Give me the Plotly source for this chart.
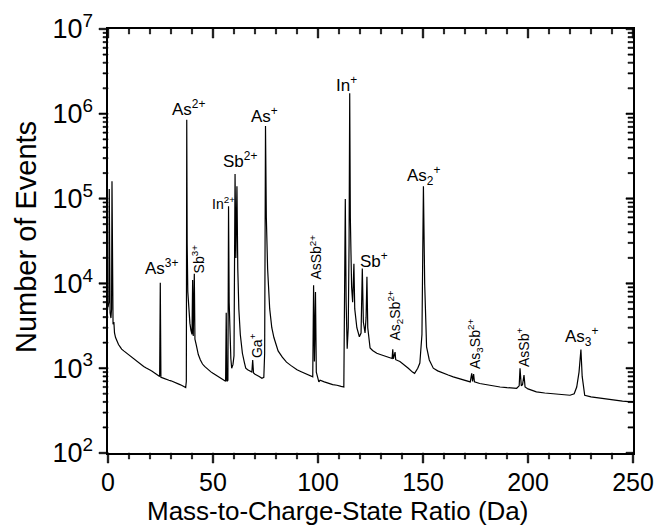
import plotly.graph_objects as go

# ---- spectrum ----
mass_da = [0.0, 0.4, 0.6, 0.8, 1.0, 1.4, 1.7, 1.9, 2.1, 2.4, 2.8, 3.1, 3.6, 4.2, 5.0, 5.7, 6.5, 7.5, 8.9,
           10, 11, 12, 13, 14, 15, 16, 17, 18, 19, 20, 21, 22, 23, 24, 24.6, 24.9, 25.2, 26, 27, 28, 29, 30,
           31, 32, 33, 34, 35, 36, 37.0, 37.3, 37.5, 37.7, 38.0, 38.5, 39.0, 39.5, 40.0, 40.3, 40.6, 41.1,
           41.4, 42.0, 43.0, 44.0, 45, 46, 47, 48, 49, 50, 51, 52, 53, 54, 55, 56.0, 56.3, 56.6, 57.1, 57.4,
           57.7, 58.1, 58.5, 58.9, 59.5, 60.0, 60.5, 60.9, 61.4, 61.8, 62.3, 63.0, 64.0, 65.0, 65.6, 66.5,
           67.5, 68.5, 68.9, 69.3, 70, 71, 72, 73.3, 74.2, 74.6, 75.0, 75.4, 76.0, 77.0, 78.0, 79.0, 80.0,
           81.0, 83, 85, 87, 90, 92, 95, 97.5, 97.9, 98.3, 98.8, 99.2, 100.4, 101, 103, 105, 107, 109, 110,
           111, 112.3, 112.6, 113.0, 113.4, 113.9, 114.4, 114.8, 115.1, 115.4, 116.0, 116.5, 117.1, 117.5,
           118.5, 119.7, 120.5, 121.1, 121.6, 122.4, 122.9, 123.3, 123.7, 124.8, 126, 128, 130, 132.7, 134,
           135.3, 135.6, 135.9, 136.7, 137.0, 139, 141, 143, 145, 146, 147.5, 148.5, 149.5, 150.2, 150.8,
           151.7, 153, 154.9, 157, 160, 162, 164.4, 167, 170, 172.5, 173.2, 173.6, 174.1, 174.5, 177, 180,
           183, 186.7, 190, 194.6, 195.8, 196.2, 196.8, 197.4, 198.1, 198.6, 200, 204, 208, 212, 216, 220,
           222, 223.2, 224.3, 225.2, 225.8, 226.5, 227, 230, 236, 240, 245, 249.4, 250]
counts = [5200, 6000, 130000, 9000, 4500, 3900, 5000, 160000, 8000, 3300, 3500, 2600, 2300, 2100, 1900, 1800,
          1680, 1600, 1500,
          1430, 1350, 1290, 1240, 1180, 1150, 1090, 1050, 1010, 970, 950, 920, 880, 850, 820, 800, 10200, 780,
          770, 750, 735, 720, 710,
          690, 675, 660, 645, 630, 610, 590, 700, 850000, 30000, 8000, 4500, 3400, 2800, 2500, 11000, 2400,
          13000,
          2200, 1900, 1450, 1250, 1120, 1050, 990, 950, 905, 870, 840, 805, 780, 750, 730, 700, 4500, 700,
          720, 81000,
          6000, 2500, 1300, 1000, 1100, 1400, 195000, 20000, 140000, 15000, 5000, 2500, 1500, 1150, 1000, 960,
          930, 900, 1250, 880, 850, 830, 800, 760, 780, 1500, 720000, 60000, 15000, 5000, 3000, 2300, 1900,
          1600, 1350, 1180, 1080, 960, 910, 840, 790, 9500, 1200, 7900, 900, 690, 720, 690, 660, 640, 630, 615,
          610, 600, 3000, 99000, 6000, 1700, 3000, 30000, 1750000, 60000, 9100, 6000, 17000, 5000,
          3000, 2350, 2600, 15000, 3500, 2600, 4000, 12000, 3000, 1730, 1620, 1500, 1440, 1370, 1330,
          1300, 1670, 1290, 1550, 1260, 1200, 1100, 1000, 900, 870, 1000, 1150, 2500, 140000, 10000,
          1780, 1250, 1000, 930, 860, 830, 790, 760, 720, 690, 870, 700, 850, 690, 660, 640,
          620, 600, 590, 580, 620, 1000, 620, 640, 830, 600, 570, 525, 510, 500, 490, 480,
          500, 600, 900, 1660, 800, 560, 480, 460, 440, 420, 410, 400, 400]

# ---- axis ticks ----
x_ticks = [0, 50, 100, 150, 200, 250]
x_minor = [v for v in range(10, 250, 10) if v % 50 != 0]
y_ticks = [1e2, 1e3, 1e4, 1e5, 1e6, 1e7]
y_tick_labels = ["10<sup>2</sup>", "10<sup>3</sup>", "10<sup>4</sup>", "10<sup>5</sup>",
                 "10<sup>6</sup>", "10<sup>7</sup>"]
y_minor = [k * 10 ** d for d in range(2, 7) for k in range(2, 10)]

# ---- peak labels: text, mass, log10(count) of centre, rotated?, size ----
label_text = ["As<sup>3+</sup>", "As<sup>2+</sup>", "As<sup>+</sup>", "Sb<sup>2+</sup>", "In<sup>2+</sup>",
              "In<sup>+</sup>", "As<sub>2</sub><sup>+</sup>", "Sb<sup>+</sup>", "As<sub>3</sub><sup>+</sup>",
              "Sb<sup>3+</sup>", "Ga<sup>+</sup>", "AsSb<sup>2+</sup>", "As<sub>2</sub>Sb<sup>2+</sup>",
              "As<sub>3</sub>Sb<sup>2+</sup>", "AsSb<sup>+</sup>"]
label_mass = [25.5, 38.3, 74.5, 62.9, 54.8, 113.6, 150.2, 126.7, 225.5, 43.3, 70.5, 98.6, 136.9, 174.5, 197.4]
label_log = [4.19, 6.07, 5.99, 5.455, 4.954, 6.357, 5.267, 4.276, 3.374, 4.294, 3.262, 4.305, 3.627, 3.291, 3.244]
label_rot = [False] * 9 + [True] * 6
label_size = [17, 17, 17, 17, 14, 17, 17, 17, 17, 14, 14, 14, 14, 14, 14]

FONT = "Liberation Sans, Arial, sans-serif"
W, H = 657, 532
L, R, T, B = 108, 24, 29, 79          # plot-area edges in pixels
PW, PH = W - L - R, H - T - B
X0, X1 = 0, 250
Y0, Y1 = 2, 7                          # log10 range
DA = (X1 - X0) / PW                    # Da per pixel
DEC = (Y1 - Y0) / PH                   # decades per pixel

fig = go.Figure()
fig.add_trace(go.Scatter(x=mass_da, y=counts, mode="lines",
                         line=dict(color="black", width=1.2), hoverinfo="skip", showlegend=False))
# empty trace so that the top/right frame axes are drawn
fig.add_trace(go.Scatter(x=[], y=[], xaxis="x2", yaxis="y2", mode="lines",
                         hoverinfo="skip", showlegend=False))

# ---- tick marks as small filled bars, placed through the axis scales ----
def add_bars(xaxis, yaxis, xticks, ytick_vals, xbar, ybar, half_w):
    """xbar: (lo, hi) log10 extent for x ticks; ybar: (lo, hi) Da extent for y ticks."""
    xs, ys = [], []
    for v in xticks:
        a, b = v - half_w * DA, v + half_w * DA
        xs += [a, b, b, a, a, None]
        ys += [10 ** xbar[0], 10 ** xbar[0], 10 ** xbar[1], 10 ** xbar[1], 10 ** xbar[0], None]
    for v in ytick_vals:
        lv = __import__("math").log10(v)
        a, b = 10 ** (lv - half_w * DEC), 10 ** (lv + half_w * DEC)
        xs += [ybar[0], ybar[1], ybar[1], ybar[0], ybar[0], None]
        ys += [a, a, b, b, a, None]
    fig.add_trace(go.Scatter(x=xs, y=ys, xaxis=xaxis, yaxis=yaxis, mode="lines", fill="toself",
                             fillcolor="black", line=dict(color="black", width=0.6),
                             hoverinfo="skip", showlegend=False))

# inside ticks (top and right) on the main axes
add_bars("x", "y", x_ticks, y_ticks, (Y1 - 9 * DEC, Y1), (X1 - 7 * DA, X1), 0.75)
add_bars("x", "y", x_minor, y_minor, (Y1 - 5 * DEC, Y1), (X1 - 5 * DA, X1), 0.6)
# outside ticks (bottom and left) on a full-figure frame subplot sharing the same scales
add_bars("x3", "y3", x_ticks, y_ticks, (Y0 - 10 * DEC, Y0), (X0 - 9 * DA, X0), 0.75)
add_bars("x3", "y3", x_minor, y_minor, (Y0 - 6 * DEC, Y0), (X0 - 5 * DA, X0), 0.6)

for t, m, lg, rot, sz in zip(label_text, label_mass, label_log, label_rot, label_size):
    fig.add_annotation(x=m, y=lg, xref="x", yref="y", text=t, showarrow=False,
                       textangle=-90 if rot else 0, xanchor="center", yanchor="middle",
                       font=dict(family=FONT, size=sz, color="black"))

# axis titles positioned in pixel space
fig.add_annotation(x=337 / W, y=1 - 511 / H, xref="paper", yref="paper",
                   text="Mass-to-Charge-State Ratio (Da)", showarrow=False,
                   xanchor="center", yanchor="middle", font=dict(family=FONT, size=26, color="black"))
fig.add_annotation(x=26 / W, y=1 - 237 / H, xref="paper", yref="paper",
                   text="Number of Events", showarrow=False, textangle=-90,
                   xanchor="center", yanchor="middle", font=dict(family=FONT, size=29, color="black"))

base = dict(showgrid=False, zeroline=False, automargin=False, linecolor="black", linewidth=1.6,
            ticks="")
xdom = [L / W, 1 - R / W]
ydom = [B / H, 1 - T / H]
xr = dict(range=[X0, X1], domain=xdom)
yr = dict(type="log", range=[Y0, Y1], domain=ydom)

fig.update_layout(
    xaxis=dict(**base, **xr, side="bottom", showline=True, tickmode="array", tickvals=x_ticks,
               ticktext=[str(v) for v in x_ticks], ticklabelstandoff=6,
               tickfont=dict(family=FONT, size=25, color="black")),
    yaxis=dict(**base, **yr, side="left", showline=True, tickmode="array", tickvals=y_ticks,
               ticktext=y_tick_labels, ticklabelstandoff=8,
               tickfont=dict(family=FONT, size=27, color="black")),
    xaxis2=dict(**base, **xr, side="top", overlaying="x", showline=True, showticklabels=False),
    yaxis2=dict(**base, **yr, side="right", overlaying="y", showline=True, showticklabels=False),
    xaxis3=dict(visible=False, domain=[0, 1], anchor="y3", fixedrange=True,
                range=[X0 - L * DA, X1 + R * DA]),
    yaxis3=dict(visible=False, domain=[0, 1], anchor="x3", type="log", fixedrange=True,
                range=[Y0 - B * DEC, Y1 + T * DEC]),
    width=W, height=H, margin=dict(l=0, r=0, t=0, b=0),
    plot_bgcolor="rgba(0,0,0,0)", paper_bgcolor="white", showlegend=False,
)

fig.write_html("out.html", config={"displayModeBar": False, "staticPlot": True},
               post_script="document.body.style.margin='0px';")
